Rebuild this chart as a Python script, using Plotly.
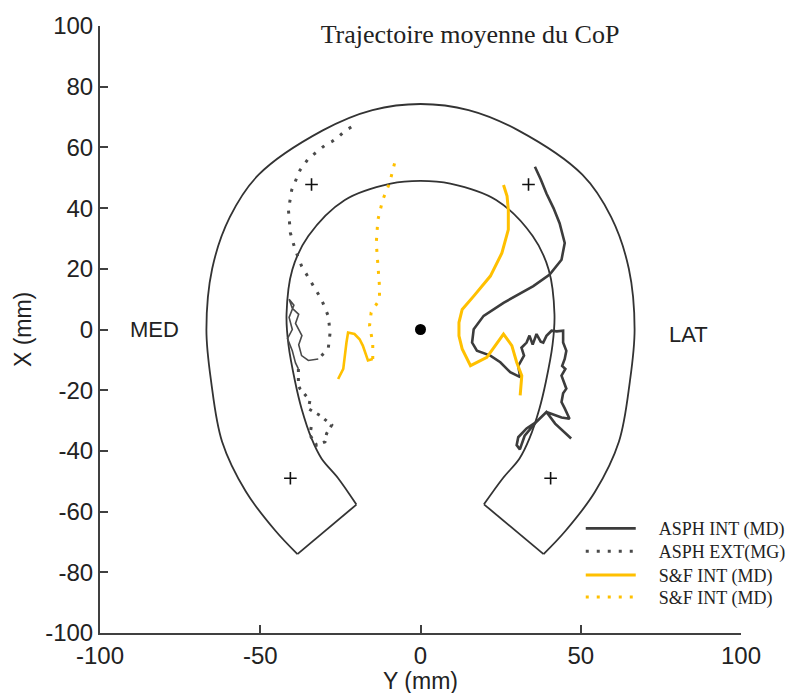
import plotly.graph_objects as go

# ---------------- data ----------------
x_tick_vals = [-100, -50, 0, 50, 100]
x_tick_text = ["-100", "-50", "0", "50", "100"]
y_tick_vals = [-100, -80, -60, -40, -20, 0, 20, 40, 60, 80, 100]
y_tick_text = ["-100", "-80", "-60", "-40", "-20", "0", "20", "40", "60", "80", "100"]

legend_names = ["ASPH INT (MD)", "ASPH EXT(MG)", "S&F INT (MD)", "S&F INT (MD)"]

# horseshoe outline (Y, X in mm)
outer_Y = [-38.4, -45.2, -54.5, -61.9, -65.3, -66.8, -65.0, -59.5, -50.5, -30.5, -15.0, 0.0,
           15.0, 30.5, 50.5, 59.5, 65.0, 66.8, 65.3, 61.9, 54.5, 45.2, 38.4]
outer_X = [-74.0, -66.4, -53.4, -37.0, -17.3, 0.0, 20.0, 37.0, 51.0, 65.6, 72.3, 74.3,
           72.3, 65.6, 51.0, 37.0, 20.0, 0.0, -17.3, -37.0, -53.4, -66.4, -74.0]
inner_Y = [19.8, 25.7, 30.9, 34.0, 37.1, 39.1, 41.2, 41.8, 40.0, 35.0, 23.6, 9.3, 0.0,
           -9.3, -23.6, -35.0, -40.0, -41.8, -41.2, -39.1, -37.1, -34.0, -30.9, -25.7, -20.0]
inner_X = [-57.6, -49.0, -42.5, -35.9, -26.1, -17.3, -5.0, 5.0, 19.7, 30.8, 42.7, 48.1, 49.0,
           48.1, 42.7, 30.8, 19.7, 5.0, -5.0, -17.3, -26.1, -35.9, -42.5, -49.0, -57.7]
left_leg_Y = [-38.4, -20.0]
left_leg_X = [-74.0, -57.7]
right_leg_Y = [38.4, 19.8]
right_leg_X = [-74.0, -57.6]

# reference marks
cross_Y = [-34.0, 33.7, -40.6, 40.6]
cross_X = [47.8, 47.8, -49.0, -49.0]
center_Y = [0.0]
center_X = [0.0]

# ASPH INT (MD)
asph_int_Y = [35.7, 37.5, 39.3, 41.5, 43.4, 45.0, 44.0, 40.3, 35.2, 30.5, 25.9, 19.7, 16.6,
              16.1, 17.6, 21.8, 24.9, 28.0, 31.1, 30.5, 32.3, 31.5, 33.1, 34.0, 35.0, 36.2,
              37.5, 38.3, 39.3, 40.9, 42.5, 44.5, 44.5, 45.5, 45.0, 44.2, 45.2, 44.0, 45.5,
              44.5, 44.0, 45.0, 46.5, 44.0, 41.9, 39.3, 36.2, 33.1, 30.5, 30.0, 31.0, 32.5,
              36.2, 39.3, 42.0, 44.0, 47.0]
asph_int_X = [53.6, 49.5, 44.8, 40.0, 35.0, 28.5, 23.0, 18.1, 14.3, 11.5, 8.8, 4.5, 0.1,
              -4.3, -7.0, -8.6, -10.8, -14.1, -15.7, -12.0, -8.6, -6.0, -4.3, -2.0, -5.0, -1.5,
              -4.0, -4.3, -2.1, -0.4, -0.6, -0.4, -4.3, -7.0, -9.7, -12.0, -13.0, -15.2, -19.5,
              -21.0, -23.9, -26.0, -29.4, -29.0, -28.3, -27.2, -30.4, -32.6, -35.5, -38.1, -39.5, -35.0,
              -30.4, -27.2, -31.0, -33.0, -35.9]

# ASPH EXT (MG): sparse part, dense part, tail
asph_ext_Y = [-21.6, -23.5, -25.7, -27.5, -29.8, -32.5, -35.0, -37.6, -40.2, -41.2, -40.6,
              -39.1, -37.1, -34.0, -30.9, -28.8, -28.2, -28.8, -31.9]
asph_ext_X = [66.7, 65.5, 63.4, 62.0, 60.7, 58.5, 56.3, 52.5, 45.9, 39.4, 31.8,
              26.3, 20.9, 15.4, 9.9, 4.5, -1.0, -6.4, -9.7]
asph_ext_dense_Y = [-31.9, -35.0, -37.1, -38.0, -37.0, -39.0, -38.0, -40.0, -41.0, -39.5,
                    -41.0, -40.0, -41.5, -40.0, -39.0, -38.1]
asph_ext_dense_X = [-9.7, -10.2, -8.6, -5.0, -2.0, 2.0, 5.0, 7.0, 10.0, 8.0,
                    4.0, 0.0, -3.0, -7.0, -11.0, -13.0]
asph_ext_tail_Y = [-38.1, -38.1, -37.6, -34.5, -35.0, -31.4, -27.7, -29.3, -29.8, -32.4, -34.5, -34.0]
asph_ext_tail_X = [-13.0, -18.4, -19.5, -23.4, -26.1, -28.3, -31.5, -34.3, -37.0, -38.1, -34.8, -31.5]

# S&F INT (MD) solid
sf_int_Y = [25.9, 27.0, 27.4, 27.4, 25.4, 21.8, 16.6, 13.0, 12.0, 12.0, 13.0, 15.6, 20.7,
            25.9, 28.5, 30.0, 31.6, 31.1]
sf_int_X = [47.6, 44.0, 39.4, 32.9, 25.2, 17.6, 11.0, 6.6, 2.3, -2.1, -6.4, -11.9, -9.2,
            -1.5, -5.3, -10.8, -15.2, -21.7]

# S&F INT (MD) dotted
sf_ext_Y = [-8.1, -9.7, -11.8, -13.3, -13.8, -13.3, -12.8, -12.8, -15.4, -15.9, -14.9, -14.9]
sf_ext_X = [54.7, 48.1, 42.7, 36.1, 28.5, 19.7, 14.3, 9.9, 5.6, 1.2, -4.3, -9.7]
sf_ext_dense_Y = [-14.9, -16.4, -18.0, -19.0, -20.6, -22.6, -23.1, -23.6, -24.1, -25.7]
sf_ext_dense_X = [-9.7, -10.2, -5.3, -3.2, -1.5, -1.0, -4.3, -8.6, -13.0, -16.3]

for a, b in [(outer_Y, outer_X), (inner_Y, inner_X), (asph_int_Y, asph_int_X),
             (asph_ext_Y, asph_ext_X), (asph_ext_dense_Y, asph_ext_dense_X),
             (asph_ext_tail_Y, asph_ext_tail_X), (sf_int_Y, sf_int_X),
             (sf_ext_Y, sf_ext_X), (sf_ext_dense_Y, sf_ext_dense_X)]:
    assert len(a) == len(b), (len(a), len(b))

# ---------------- styles ----------------
GRAY = "#3c3c3c"
DOTGRAY = "#4a4a4a"
YELLOW = "#FFC000"
SHOE = "#333333"
TEXT = "#222222"
SANS = "Liberation Sans"
SERIF = "Liberation Serif"
PAD = "\u00a0" * 4   # gap between legend sample and its text

fig = go.Figure()

shoe_line = dict(color=SHOE, width=1.8)
fig.add_trace(go.Scatter(x=outer_Y, y=outer_X, mode="lines", line=dict(shape="spline", smoothing=1.0, **shoe_line),
                         showlegend=False, hoverinfo="skip"))
fig.add_trace(go.Scatter(x=inner_Y, y=inner_X, mode="lines", line=dict(shape="spline", smoothing=1.0, **shoe_line),
                         showlegend=False, hoverinfo="skip"))
fig.add_trace(go.Scatter(x=left_leg_Y, y=left_leg_X, mode="lines", line=shoe_line, showlegend=False, hoverinfo="skip"))
fig.add_trace(go.Scatter(x=right_leg_Y, y=right_leg_X, mode="lines", line=shoe_line, showlegend=False, hoverinfo="skip"))

fig.add_trace(go.Scatter(x=cross_Y, y=cross_X, mode="markers",
                         marker=dict(symbol="cross-thin", size=9, line=dict(color="#111111", width=1.6)),
                         showlegend=False, hoverinfo="skip"))
fig.add_trace(go.Scatter(x=center_Y, y=center_X, mode="markers",
                         marker=dict(symbol="circle", size=11, color="#000000"),
                         showlegend=False, hoverinfo="skip"))

# trajectories (each in its own legend box so the rows can be spaced like the reference)
fig.add_trace(go.Scatter(x=asph_int_Y, y=asph_int_X, mode="lines", name=PAD + legend_names[0],
                         line=dict(color=GRAY, width=2.6), legend="legend"))
fig.add_trace(go.Scatter(x=asph_ext_Y, y=asph_ext_X, mode="lines", name=PAD + legend_names[1],
                         line=dict(color=DOTGRAY, width=3, dash="3px,8px"), legend="legend2"))
fig.add_trace(go.Scatter(x=sf_int_Y, y=sf_int_X, mode="lines", name=PAD + legend_names[2],
                         line=dict(color=YELLOW, width=3), legend="legend3"))
fig.add_trace(go.Scatter(x=sf_ext_Y, y=sf_ext_X, mode="lines", name=PAD + legend_names[3],
                         line=dict(color=YELLOW, width=3, dash="3px,8px"), legend="legend4"))

fig.add_trace(go.Scatter(x=asph_ext_dense_Y, y=asph_ext_dense_X, mode="lines",
                         line=dict(color=DOTGRAY, width=1.6), showlegend=False, hoverinfo="skip"))
fig.add_trace(go.Scatter(x=asph_ext_tail_Y, y=asph_ext_tail_X, mode="lines",
                         line=dict(color=DOTGRAY, width=3, dash="3px,6px"), showlegend=False, hoverinfo="skip"))
fig.add_trace(go.Scatter(x=sf_ext_dense_Y, y=sf_ext_dense_X, mode="lines",
                         line=dict(color=YELLOW, width=2.6), showlegend=False, hoverinfo="skip"))

axis_common = dict(showgrid=False, zeroline=False, showline=True, linecolor="#404040", linewidth=2,
                   ticks="inside", ticklen=8, tickwidth=1.5, tickcolor="#404040",
                   tickfont=dict(family=SANS, size=24, color=TEXT))


def legend_box(py):
    return dict(x=0.75, xanchor="left", y=1 - (py - 22) / 611, yanchor="middle",
                bgcolor="rgba(0,0,0,0)", font=dict(family=SERIF, size=18, color=TEXT), itemwidth=50)


fig.update_layout(
    width=803, height=693,
    margin=dict(l=100, r=57, t=22, b=60),
    paper_bgcolor="white", plot_bgcolor="white",
    xaxis=dict(range=[-100, 100], tickmode="array", tickvals=x_tick_vals, ticktext=x_tick_text, **axis_common),
    yaxis=dict(range=[-100, 100], tickmode="array", tickvals=y_tick_vals, ticktext=y_tick_text, **axis_common),
    title=dict(text="Trajectoire moyenne du CoP", x=470 / 803, xref="container", xanchor="center",
               y=1 - 34 / 693, yref="container", yanchor="middle",
               font=dict(family=SERIF, size=26, color=TEXT)),
    legend=legend_box(528),
    legend2=legend_box(551),
    legend3=legend_box(575),
    legend4=legend_box(597),
    showlegend=True,
    annotations=[
        dict(text="MED", x=-83, y=0, xref="x", yref="y", showarrow=False,
             font=dict(family=SANS, size=22, color=TEXT)),
        dict(text="LAT", x=83.5, y=-1.5, xref="x", yref="y", showarrow=False,
             font=dict(family=SANS, size=22, color=TEXT)),
        dict(text="Y (mm)", x=0.5, y=(633 - 681) / 611, xref="paper", yref="paper", showarrow=False,
             yanchor="middle", font=dict(family=SANS, size=23, color=TEXT)),
        dict(text="X (mm)", x=(22 - 100) / 646, y=0.5, xref="paper", yref="paper", showarrow=False,
             textangle=-90, xanchor="center", font=dict(family=SANS, size=23, color=TEXT)),
    ],
)

fig.write_html("out.html")
